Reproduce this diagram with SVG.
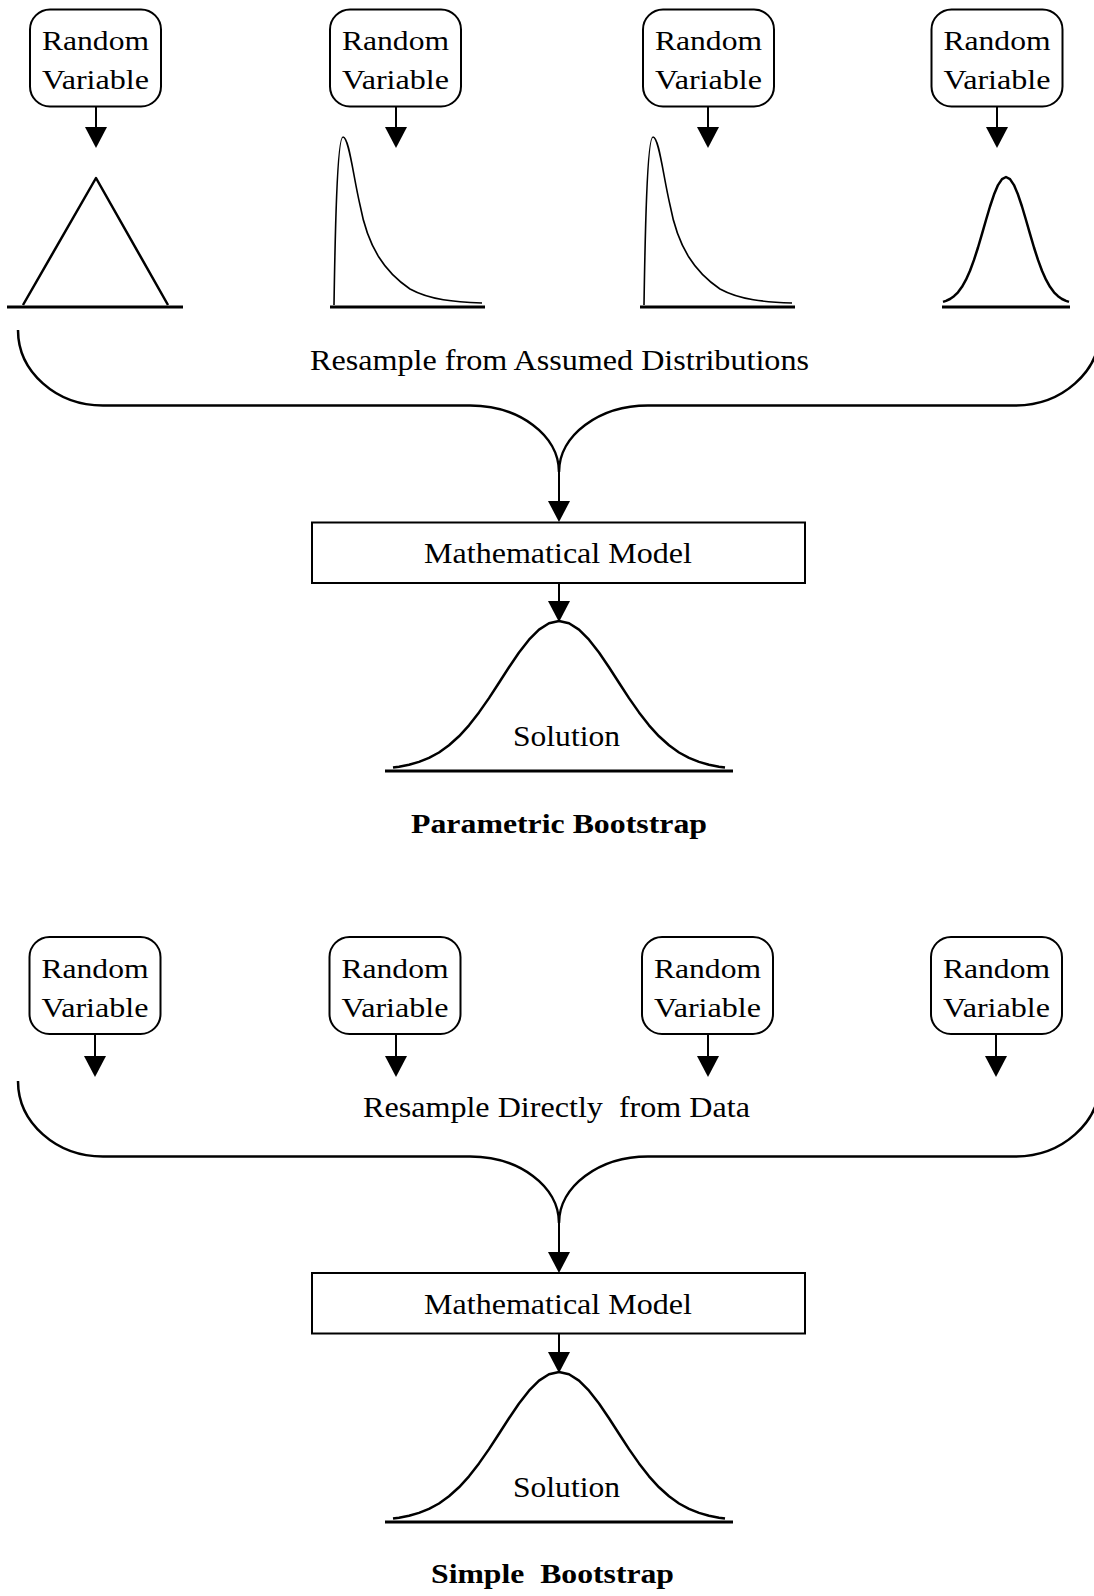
<svg xmlns="http://www.w3.org/2000/svg" width="1094" height="1596" viewBox="0 0 1094 1596">
<defs>
<style>
.box{fill:#fff;stroke:#000;stroke-width:2}
.t{font-family:"Liberation Serif","Times New Roman",serif;font-size:28px;fill:#000}
.m{font-size:29px}
.b{font-size:28px;font-weight:bold}
.ln{stroke:#000;stroke-width:2;fill:none}
.br{stroke:#000;stroke-width:2.5;fill:none}
.base{stroke:#000;stroke-width:3;fill:none}
.crv{stroke:#000;stroke-width:2.5;fill:none;stroke-linejoin:round}
.thin{stroke:#000;stroke-width:1.6;fill:none}
</style>
<marker id="ah" markerUnits="userSpaceOnUse" markerWidth="21" markerHeight="22" refX="0" refY="11" orient="auto" overflow="visible">
<path d="M0,0 L21,11 L0,22 z" fill="#000"/>
</marker>
<g id="rvbox">
<rect class="box" x="-65.5" y="0" width="131" height="97" rx="20" ry="20"/>
<text class="t" x="-53.5" y="40.5" textLength="107" lengthAdjust="spacingAndGlyphs">Random</text>
<text class="t" x="-53.5" y="79.5" textLength="107" lengthAdjust="spacingAndGlyphs">Variable</text>
</g>
<path id="skew" class="thin" d="M334,305 C335,240 337,137 343,137 C349,137 353,175 360,205 C368,248 385,272 410,289 C430,300 455,302 482,303"/>
</defs>
<rect x="0" y="0" width="1094" height="1596" fill="#fff"/>

<!-- Parametric bootstrap -->
<g id="rv1"><use href="#rvbox" x="95.5" y="9.5"/></g>
<g id="rv2"><use href="#rvbox" x="395.5" y="9.5"/></g>
<g id="rv3"><use href="#rvbox" x="708.5" y="9.5"/></g>
<g id="rv4"><use href="#rvbox" x="997" y="9.5"/></g>

<g id="dist1">
<polyline class="crv" points="23,305 96,178 168,305"/>
<line class="base" x1="7" y1="307" x2="183" y2="307"/>
</g>
<g id="dist2">
<use href="#skew"/>
<line class="base" x1="330" y1="307" x2="485" y2="307"/>
</g>
<g id="dist3">
<use href="#skew" x="310"/>
<line class="base" x1="640" y1="307" x2="795" y2="307"/>
</g>
<g id="dist4">
<polyline class="crv" points="943,301.9 946,300.9 950,299 954,296.2 958,292.3 962,286.8 966,279.7 970,270.7 974,259.9 978,247.5 982,233.9 986,220 990,206.5 994,194.6 998,185.1 1002,179.1 1006,177 1010,179.1 1014,185.1 1018,194.6 1022,206.5 1026,220 1030,233.9 1034,247.5 1038,259.9 1042,270.7 1046,279.7 1050,286.8 1054,292.3 1058,296.2 1062,299 1066,300.9 1069,301.9"/>
<line class="base" x1="942" y1="307" x2="1070" y2="307"/>
</g>

<g id="label1">
<text class="t m" x="310" y="370" textLength="499" lengthAdjust="spacingAndGlyphs">Resample from Assumed Distributions</text>
</g>

<g id="model1">
<rect class="box" x="312" y="522.5" width="493" height="60.5"/>
<text class="t m" x="424" y="563" textLength="268" lengthAdjust="spacingAndGlyphs">Mathematical Model</text>
</g>
<g id="solution1">
<polyline class="crv" points="393,767.5 399,766.7 409,764.7 419,761.9 429,757.9 439,752.5 449,745.3 459,736.3 469,725.3 479,712.4 489,698.1 499,682.7 509,667.2 519,652.5 529,639.7 539,629.6 549,623.2 559,621 569,623.2 579,629.6 589,639.7 599,652.5 609,667.2 619,682.7 629,698.1 639,712.4 649,725.3 659,736.3 669,745.3 679,752.5 689,757.9 699,761.9 709,764.7 719,766.7 725,767.5"/>
<line class="base" x1="385" y1="771" x2="733" y2="771"/>
<text class="t m" x="513" y="746" textLength="107" lengthAdjust="spacingAndGlyphs">Solution</text>
</g>
<g id="title1">
<text class="t b" x="411" y="833" textLength="296" lengthAdjust="spacingAndGlyphs">Parametric Bootstrap</text>
</g>

<!-- Simple bootstrap -->
<g id="rv5"><use href="#rvbox" x="95" y="937"/></g>
<g id="rv6"><use href="#rvbox" x="395" y="937"/></g>
<g id="rv7"><use href="#rvbox" x="707.5" y="937"/></g>
<g id="rv8"><use href="#rvbox" x="996.5" y="937"/></g>

<g id="label2">
<text class="t m" x="363" y="1117" textLength="387" lengthAdjust="spacingAndGlyphs" xml:space="preserve">Resample Directly  from Data</text>
</g>

<g id="model2">
<rect class="box" x="312" y="1273" width="493" height="60.5"/>
<text class="t m" x="424" y="1314" textLength="268" lengthAdjust="spacingAndGlyphs">Mathematical Model</text>
</g>
<g id="solution2">
<polyline class="crv" transform="translate(0,751)" points="393,767.5 399,766.7 409,764.7 419,761.9 429,757.9 439,752.5 449,745.3 459,736.3 469,725.3 479,712.4 489,698.1 499,682.7 509,667.2 519,652.5 529,639.7 539,629.6 549,623.2 559,621 569,623.2 579,629.6 589,639.7 599,652.5 609,667.2 619,682.7 629,698.1 639,712.4 649,725.3 659,736.3 669,745.3 679,752.5 689,757.9 699,761.9 709,764.7 719,766.7 725,767.5"/>
<line class="base" x1="385" y1="1522" x2="733" y2="1522"/>
<text class="t m" x="513" y="1497" textLength="107" lengthAdjust="spacingAndGlyphs">Solution</text>
</g>
<g id="title2">
<text class="t b" x="431" y="1583" textLength="243" lengthAdjust="spacingAndGlyphs" xml:space="preserve">Simple  Bootstrap</text>
</g>

<g id="connectors">
<path class="ln" marker-end="url(#ah)" d="M96,107 V127"/>
<path class="ln" marker-end="url(#ah)" d="M396,107 V127"/>
<path class="ln" marker-end="url(#ah)" d="M708,107 V127"/>
<path class="ln" marker-end="url(#ah)" d="M997,107 V127"/>
<path class="br" d="M18,330 C18,371.7 56,405.5 103,405.5 L470,405.5 C519,405.5 559,435.3 559,472 C559,435.3 599,405.5 648,405.5 L1015,405.5 C1062,405.5 1100,371.7 1100,330"/>
<path class="ln" marker-end="url(#ah)" d="M559,472 V501"/>
<path class="ln" marker-end="url(#ah)" d="M559,583 V601"/>

<path class="ln" marker-end="url(#ah)" d="M95,1034 V1056"/>
<path class="ln" marker-end="url(#ah)" d="M396,1034 V1056"/>
<path class="ln" marker-end="url(#ah)" d="M708,1034 V1056"/>
<path class="ln" marker-end="url(#ah)" d="M996,1034 V1056"/>
<path class="br" transform="translate(0,751)" d="M18,330 C18,371.7 56,405.5 103,405.5 L470,405.5 C519,405.5 559,435.3 559,472 C559,435.3 599,405.5 648,405.5 L1015,405.5 C1062,405.5 1100,371.7 1100,330"/>
<path class="ln" marker-end="url(#ah)" d="M559,1223 V1252"/>
<path class="ln" marker-end="url(#ah)" d="M559,1334 V1352"/>
</g>
</svg>
